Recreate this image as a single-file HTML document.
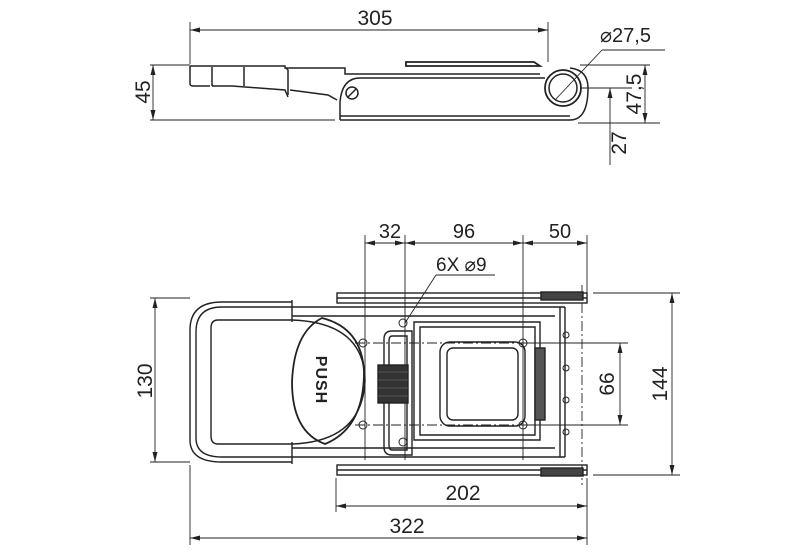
<!DOCTYPE html>
<html><head><style>body{margin:0;background:#fff}svg{display:block}text{font-family:"Liberation Sans",sans-serif;fill:#222}</style></head>
<body>
<svg width="800" height="552" viewBox="0 0 800 552" xmlns="http://www.w3.org/2000/svg" fill="none" stroke="#222" stroke-width="1">
<defs>
<marker id="a" markerWidth="10" markerHeight="6" refX="10" refY="3" orient="auto-start-reverse" markerUnits="userSpaceOnUse"><path d="M0,0.5 L10,3 L0,5.5 z" fill="#222" stroke="none"/></marker>
</defs>
<!-- TOP VIEW -->
<g stroke-width="0.9">
<line x1="190" y1="22" x2="190" y2="64"/><line x1="548" y1="22" x2="548" y2="62"/>
<line x1="190" y1="30" x2="548" y2="30" marker-start="url(#a)" marker-end="url(#a)"/>
<line x1="150" y1="65" x2="190" y2="65"/><line x1="150" y1="120" x2="335" y2="120"/>
<line x1="153" y1="65" x2="153" y2="120" marker-start="url(#a)" marker-end="url(#a)"/>
<line x1="555" y1="100" x2="602" y2="50"/><line x1="602" y1="50" x2="665" y2="50"/>
<line x1="580" y1="65" x2="650" y2="65"/><line x1="580" y1="88" x2="632" y2="88"/><line x1="578" y1="123" x2="660" y2="123"/>
<line x1="645" y1="65" x2="645" y2="123" marker-start="url(#a)" marker-end="url(#a)"/>
<line x1="610" y1="88" x2="610" y2="165" marker-start="url(#a)"/>
</g>
<text x="375" y="25" font-size="21" text-anchor="middle" stroke="none">305</text>
<text x="600" y="42" font-size="20" stroke="none">⌀27,5</text>
<text transform="translate(150,92) rotate(-90)" font-size="21" text-anchor="middle" stroke="none">45</text>
<text transform="translate(641,94) rotate(-90)" font-size="21" text-anchor="middle" stroke="none">47,5</text>
<text transform="translate(626,143) rotate(-90)" font-size="21" text-anchor="middle" stroke="none">27</text>
<g stroke-width="1.5">
<path d="M190,66 L285,66 L285,68 L345,68 L345,74 L540,74"/>
<path d="M190,66 L190,84 Q190,86 194,86 L210,86"/>
<line x1="212" y1="67" x2="212" y2="86"/><line x1="244" y1="67" x2="244" y2="86"/>
<path d="M212,86 L232,86 L285,90 L288,97"/>
<path d="M290,90 L328,95 L337,100"/>
<path d="M286,68 L288,70 L288,95"/>
<path d="M340,120 L340,102 Q342,78 360,78 L545,78"/>
<path d="M340,120 L570,120 Q588,120 588,88 Q588,70 570,68"/>
<path d="M406,62 L534,62 L540,66 L406,66 Z" stroke-width="1.8"/>
<line x1="340" y1="116" x2="570" y2="116"/>
<circle cx="352" cy="93" r="6"/><line x1="348" y1="97" x2="356" y2="89"/>
<circle cx="563" cy="88" r="18" stroke-width="1.8"/><circle cx="563" cy="88" r="14"/>
</g>
<!-- BOTTOM VIEW dims -->
<g stroke-width="0.9">
<line x1="365" y1="235" x2="365" y2="460"/><line x1="405" y1="235" x2="405" y2="460"/>
<line x1="523" y1="235" x2="523" y2="460"/><line x1="587" y1="235" x2="587" y2="295"/>
<line x1="365" y1="243" x2="405" y2="243" marker-start="url(#a)" marker-end="url(#a)"/>
<line x1="405" y1="243" x2="523" y2="243" marker-start="url(#a)" marker-end="url(#a)"/>
<line x1="523" y1="243" x2="587" y2="243" marker-start="url(#a)" marker-end="url(#a)"/>
<line x1="436" y1="275" x2="495" y2="275"/><line x1="436" y1="275" x2="405" y2="323"/>
<line x1="150" y1="298" x2="190" y2="298"/><line x1="150" y1="462" x2="190" y2="462"/>
<line x1="155" y1="298" x2="155" y2="462" marker-start="url(#a)" marker-end="url(#a)"/>
<line x1="593" y1="293" x2="680" y2="293"/><line x1="593" y1="475" x2="680" y2="475"/>
<line x1="672" y1="293" x2="672" y2="475" marker-start="url(#a)" marker-end="url(#a)"/>
<line x1="525" y1="343" x2="628" y2="343"/><line x1="525" y1="425" x2="628" y2="425"/>
<line x1="620" y1="343" x2="620" y2="425" marker-start="url(#a)" marker-end="url(#a)"/>
<line x1="336" y1="478" x2="336" y2="512"/><line x1="190" y1="465" x2="190" y2="545"/><line x1="587" y1="478" x2="587" y2="545"/>
<line x1="336" y1="506" x2="587" y2="506" marker-start="url(#a)" marker-end="url(#a)"/>
<line x1="190" y1="538" x2="587" y2="538" marker-start="url(#a)" marker-end="url(#a)"/>
<line x1="355" y1="343" x2="595" y2="343" stroke-dasharray="10,3,2,3"/>
<line x1="355" y1="425" x2="595" y2="425" stroke-dasharray="10,3,2,3"/>
<line x1="582" y1="285" x2="582" y2="485" stroke-dasharray="10,3,2,3"/>
</g>
<text x="390" y="238" font-size="20" text-anchor="middle" stroke="none">32</text>
<text x="464" y="238" font-size="20" text-anchor="middle" stroke="none">96</text>
<text x="560" y="238" font-size="20" text-anchor="middle" stroke="none">50</text>
<text x="436" y="271" font-size="19" stroke="none">6X ⌀9</text>
<text transform="translate(152,381) rotate(-90)" font-size="21" text-anchor="middle" stroke="none">130</text>
<text transform="translate(667,384) rotate(-90)" font-size="21" text-anchor="middle" stroke="none">144</text>
<text transform="translate(614,384) rotate(-90)" font-size="21" text-anchor="middle" stroke="none">66</text>
<text x="463" y="500" font-size="21" text-anchor="middle" stroke="none">202</text>
<text x="407" y="533" font-size="21" text-anchor="middle" stroke="none">322</text>
<!-- BOTTOM VIEW part -->
<g stroke-width="1.4">
<rect x="337" y="293" width="250" height="10"/><line x1="337" y1="298" x2="587" y2="298"/>
<rect x="337" y="465" width="250" height="10"/><line x1="337" y1="470" x2="587" y2="470"/>
<rect x="541" y="292" width="42" height="8" fill="#444"/><rect x="541" y="468" width="42" height="8" fill="#444"/>
<path d="M292,302 L222,302 Q190,302 190,330 L190,440 Q190,462 222,462 L292,462"/>
<path d="M292,307 L222,307 Q196,307 196,332 L196,438 Q196,457 222,457 L292,457"/>
<path d="M292,320 L218,320 Q211,320 211,328 L211,436 Q211,444 218,444 L292,444"/>
<line x1="292" y1="300" x2="292" y2="322"/><line x1="292" y1="442" x2="292" y2="464"/>
<path d="M292,307 L565,307 M292,457 L565,457 M565,307 L565,457 M560,307 L560,457"/>
<path d="M292,316 L555,316 M292,448 L555,448"/>
<path d="M292,320 Q350,322 362,360 Q368,380 362,400 Q350,442 292,444"/>
<path d="M322,318 Q362,328 364,372 Q364,428 325,444 Q292,432 292,382 Q294,332 322,318 Z" stroke-width="1.8"/>
<path d="M392,331 L412,331 L412,455 L392,455 Q384,455 384,447 L384,339 Q384,331 392,331 Z"/>
<path d="M392,336 L407,336 L407,450 L392,450 Q389,450 389,445 L389,341 Q389,336 392,336 Z"/>
<path d="M414,322 L540,322 L540,440 L414,440 Z"/>
<path d="M420,327 L535,327 L535,435 L420,435 Z"/>
<rect x="440" y="342" width="85" height="84" rx="10"/><rect x="447" y="348" width="71" height="72" rx="6"/>
<rect x="378" y="365" width="30" height="38" fill="#333"/>
<rect x="535" y="348" width="10" height="72" fill="#555"/>
</g>
<g stroke="#777" stroke-width="0.6"><line x1="378" y1="372" x2="408" y2="372"/><line x1="378" y1="380" x2="408" y2="380"/><line x1="378" y1="388" x2="408" y2="388"/><line x1="378" y1="396" x2="408" y2="396"/></g>
<g stroke-width="1">
<circle cx="363" cy="343" r="4"/><circle cx="363" cy="425" r="4"/>
<circle cx="403" cy="323" r="4"/><circle cx="403" cy="442" r="4"/>
<circle cx="523" cy="343" r="4"/><circle cx="523" cy="425" r="4"/>
<circle cx="566" cy="335" r="3"/><circle cx="566" cy="368" r="3"/><circle cx="566" cy="400" r="3"/><circle cx="566" cy="432" r="3"/>
</g>
<text transform="translate(316,380) rotate(90)" font-size="16" font-weight="bold" text-anchor="middle" stroke="none" letter-spacing="1">PUSH</text>
</svg>
</body></html>
